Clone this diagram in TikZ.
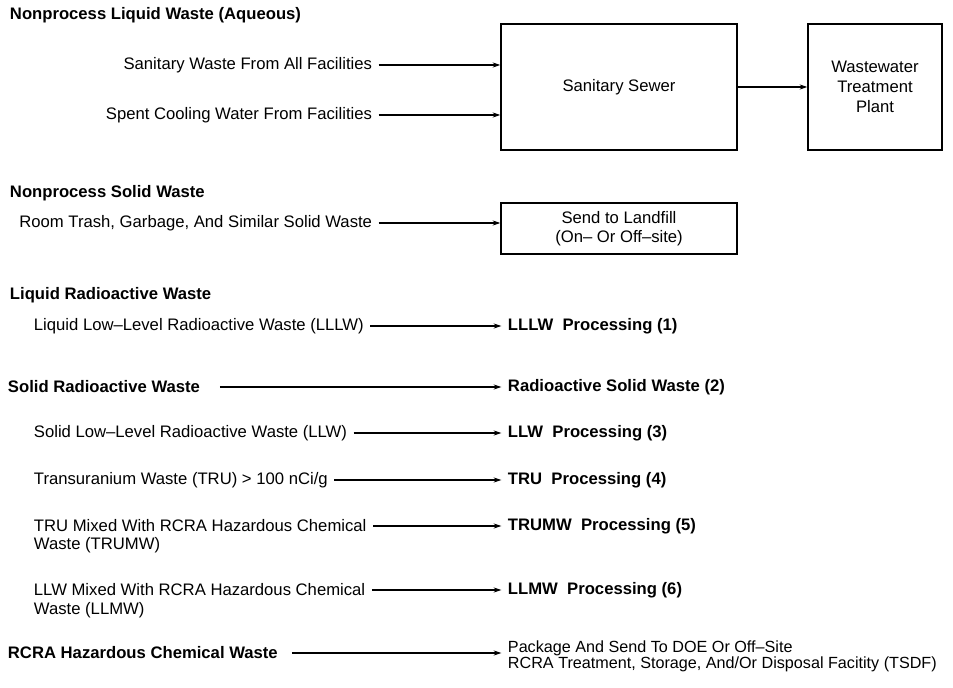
\documentclass[tikz,border=0pt]{standalone}
\usepackage{fontspec}
\setmainfont{Liberation Sans}
\usetikzlibrary{arrows.meta,positioning}

\begin{document}
\begin{tikzpicture}[x=0.6pt, y=-0.6pt, >={Stealth[length=4.5pt,width=3pt]},
  txt/.style={inner sep=0pt, outer xsep=4pt, font=\fontsize{10}{12}\selectfont},
  hd/.style={txt, font=\fontsize{10}{12}\selectfont\bfseries},
  bx/.style={draw, line width=0.9pt, align=center, inner sep=2pt, font=\fontsize{10}{11.5}\selectfont},
  flow/.style={->, line width=0.9pt}]
  \useasboundingbox (0,0) rectangle (953,688);
  % Nonprocess liquid waste
  \node[hd,anchor=west] (nlw) at (3.3,15) {Nonprocess Liquid Waste (Aqueous)};
  \node[txt,anchor=east] (san) at (378.7,65) {Sanitary Waste From All Facilities};
  \node[txt,anchor=east] (cool) at (378.7,115) {Spent Cooling Water From Facilities};
  \node[bx,minimum width=141.6pt,minimum height=75.6pt] (sewer) at (619,87) {Sanitary Sewer};
  \node[bx,minimum width=80.4pt,minimum height=75.6pt,font=\fontsize{10}{12}\selectfont] (wtp) at (875,87) {Wastewater\\Treatment\\Plant};
  \draw[flow] (san.east) -- (san.east -| sewer.west);
  \draw[flow] (cool.east) -- (cool.east -| sewer.west);
  \draw[flow] (sewer) -- (wtp);
  % Nonprocess solid waste
  \node[hd,anchor=west] (nsw) at (3.3,193) {Nonprocess Solid Waste};
  \node[txt,anchor=east] (trash) at (378.7,223) {Room Trash, Garbage, And Similar Solid Waste};
  \node[bx,minimum width=141.6pt,minimum height=30.6pt] (fill) at (619,228.5) {Send to Landfill\\(On-- Or Off--site)};
  \draw[flow] (trash.east) -- (trash.east -| fill.west);
  % Radioactive waste
  \node[hd,anchor=west] (lrw) at (3.3,295) {Liquid Radioactive Waste};
  \node[txt,anchor=west] (lllw) at (27.3,326) {Liquid Low--Level Radioactive Waste (LLLW)};
  \node[hd,anchor=west] (lllwp) at (501.3,326) {LLLW~~Processing (1)};
  \draw[flow] (lllw) -- (lllwp);
  \node[hd,anchor=west] (srw) at (1.3,387) {Solid Radioactive Waste};
  \node[hd,anchor=west] (rsw) at (501.3,387) {Radioactive Solid Waste (2)};
  \draw[flow] (srw.east) ++(8pt,0) -- (rsw.west);
  \node[txt,anchor=west] (llw) at (27.3,433) {Solid Low--Level Radioactive Waste (LLW)};
  \node[hd,anchor=west] (llwp) at (501.3,433) {LLW~~Processing (3)};
  \draw[flow] (llw) -- (llwp);
  \node[txt,anchor=west] (tru) at (27.3,480) {Transuranium Waste (TRU) > 100 nCi/g};
  \node[hd,anchor=west] (trup) at (501.3,480) {TRU~~Processing (4)};
  \draw[flow] (tru) -- (trup);
  \node[txt,anchor=west] (trumw) at (27.3,526) {TRU Mixed With RCRA Hazardous Chemical};
  \node[txt,anchor=west] (trumw2) at (27.3,545) {Waste (TRUMW)};
  \node[hd,anchor=west] (trumwp) at (501.3,526) {TRUMW~~Processing (5)};
  \draw[flow] (trumw) -- (trumwp);
  \node[txt,anchor=west] (llmw) at (27.3,590) {LLW Mixed With RCRA Hazardous Chemical};
  \node[txt,anchor=west] (llmw2) at (27.3,610) {Waste (LLMW)};
  \node[hd,anchor=west] (llmwp) at (501.3,590) {LLMW~~Processing (6)};
  \draw[flow] (llmw) -- (llmwp);
  % Hazardous chemical waste
  \node[hd,anchor=west] (rcra) at (1.3,653) {RCRA Hazardous Chemical Waste};
  \node[txt,anchor=west,font=\fontsize{9.7}{11}\selectfont] (tsdf) at (501.3,648) {Package And Send To DOE Or Off--Site};
  \node[txt,anchor=west,font=\fontsize{9.7}{11}\selectfont] (tsdf2) at (501.3,664) {RCRA Treatment, Storage, And/Or Disposal Facitity (TSDF)};
  \draw[flow] (rcra.east) ++(4.5pt,0) -- (rcra.east -| tsdf.west);
\end{tikzpicture}
\end{document}
